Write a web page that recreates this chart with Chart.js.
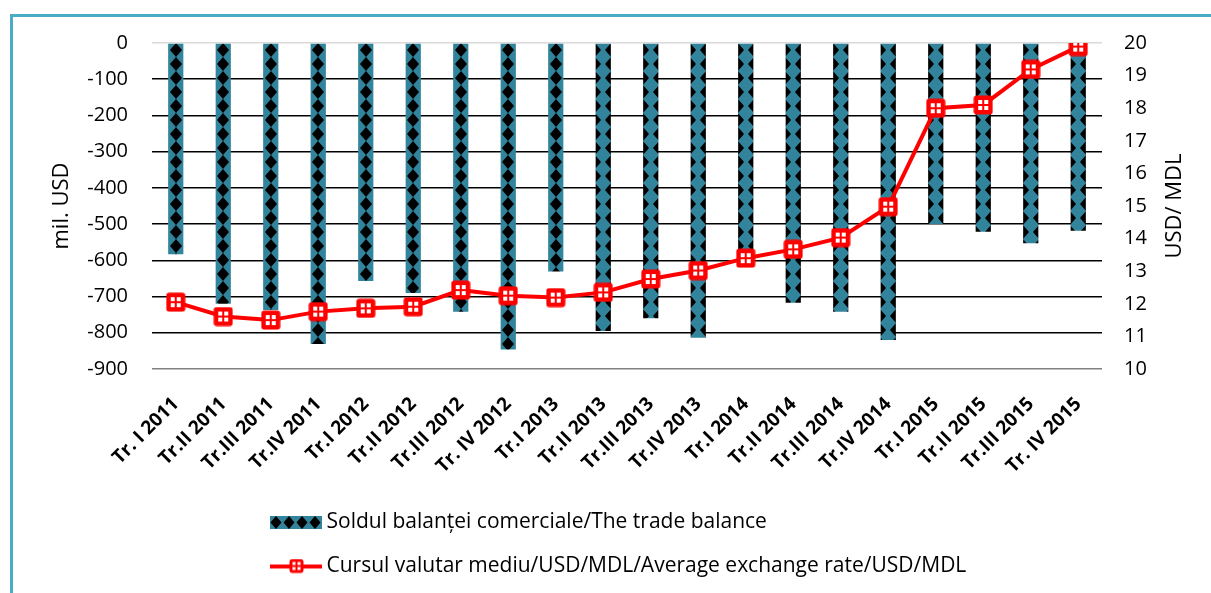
<!DOCTYPE html>
<html>
<head>
<meta charset="utf-8">
<script src="https://cdn.jsdelivr.net/npm/chart.js@4.4.1/dist/chart.umd.min.js"></script>
<style>
  html, body { margin: 0; padding: 0; background: #fff; overflow: hidden; }
  .frame { position: absolute; left: 10px; top: 14px; width: 1300px; height: 700px; border: 3px solid #4bacc6; }
  .wrap { position: absolute; left: 0; top: 0; width: 1211px; height: 593px; }
</style>
</head>
<body>
<div class="frame"></div>
<div class="wrap"><canvas id="chart"></canvas></div>
<script>
// quarters
const categories = ['Tr. I 2011', 'Tr.II 2011', 'Tr.III 2011', 'Tr.IV 2011',
  'Tr.I 2012', 'Tr.II 2012', 'Tr.III 2012', 'Tr. IV 2012',
  'Tr.I 2013', 'Tr.II 2013', 'Tr.III 2013', 'Tr.IV 2013',
  'Tr.I 2014', 'Tr.II 2014', 'Tr.III 2014', 'Tr.IV 2014',
  'Tr.I 2015', 'Tr.II 2015', 'Tr.III 2015', 'Tr. IV 2015'];

// trade balance, mil. USD
const tradeBalance = [-583, -720, -737, -831, -657, -690, -742, -846, -631, -795,
  -760, -814, -595, -717, -742, -820, -500, -521, -553, -518];

// average exchange rate USD/MDL
const exchangeRate = [12.05, 11.61, 11.50, 11.76, 11.86, 11.91, 12.42, 12.25, 12.19, 12.35,
  12.76, 13.02, 13.40, 13.67, 14.03, 14.98, 18.00, 18.10, 19.19, 19.89];

const leftTicks = { min: -900, max: 0, step: 100 };
const rightTicks = { min: 10, max: 20, step: 1 };

const barLabel = 'Soldul balanței comerciale/The trade balance';
const lineLabel = 'Cursul valutar mediu/USD/MDL/Average exchange rate/USD/MDL';
const leftTitle = 'mil. USD';
const rightTitleText = 'USD/ MDL';

const TEAL = '#31849b';
const RED = '#ff0000';
const FONT = '"Open Sans"';

// diamond pattern tile
function makeTile() {
  const c = document.createElement('canvas');
  c.width = 16; c.height = 14;
  const g = c.getContext('2d');
  g.fillStyle = TEAL;
  g.fillRect(0, 0, 16, 14);
  g.fillStyle = '#000';
  g.beginPath();
  g.moveTo(8, 0); g.lineTo(14, 7); g.lineTo(8, 14); g.lineTo(2, 7);
  g.closePath();
  g.fill();
  return c;
}
const tile = makeTile();

function barPattern(context) {
  const chart = context.chart;
  const pat = chart.ctx.createPattern(tile, 'repeat');
  const xs = chart.scales.x;
  if (xs && context.dataIndex !== undefined) {
    const cx = xs.getPixelForValue(context.dataIndex);
    const shift = context.dataIndex < 9 ? 0 : 8;
    pat.setTransform(new DOMMatrix().translateSelf(Math.round(cx) - 8 + shift, chart.chartArea ? chart.chartArea.top : 43));
  }
  return pat;
}

// marker: red rounded square with white panes
function makeMarker(size, pane) {
  const c = document.createElement('canvas');
  c.width = size; c.height = size;
  const g = c.getContext('2d');
  g.fillStyle = RED;
  g.beginPath();
  g.roundRect(0.5, 0.5, size - 1, size - 1, 3);
  g.fill();
  g.fillStyle = '#fff';
  const mid = size / 2;
  g.fillRect(mid - 1 - pane, mid - 1 - pane, pane, pane);
  g.fillRect(mid + 1, mid - 1 - pane, pane, pane);
  g.fillRect(mid - 1 - pane, mid + 1, pane, pane);
  g.fillRect(mid + 1, mid + 1, pane, pane);
  return c;
}
const marker = makeMarker(20, 4);

function makeBarSwatch() {
  const c = document.createElement('canvas');
  c.width = 52; c.height = 13;
  const g = c.getContext('2d');
  g.fillStyle = TEAL;
  g.fillRect(0, 0, 52, 13);
  g.fillStyle = '#000';
  for (let x = 6; x < 60; x += 13) {
    g.beginPath();
    g.moveTo(x, 0); g.lineTo(x + 5.5, 6.5); g.lineTo(x, 13); g.lineTo(x - 5.5, 6.5);
    g.closePath();
    g.fill();
  }
  return c;
}

function makeLineSwatch() {
  const c = document.createElement('canvas');
  c.width = 52; c.height = 16;
  const g = c.getContext('2d');
  g.fillStyle = RED;
  g.fillRect(0, 6, 52, 4);
  const m = makeMarker(15, 3);
  g.drawImage(m, 19, 0);
  return c;
}

const LEGEND_X = 253;
const legendShift = {
  id: 'legendShift',
  afterLayout(chart) {
    const lg = chart.legend;
    const dx = LEGEND_X - lg.left;
    lg.left += dx;
    lg.right += dx;
  }
};

// right axis title reads bottom-to-top like the left one
const rightTitle = {
  id: 'rightTitle',
  afterDraw(chart) {
    const s = chart.scales.y1;
    const ctx = chart.ctx;
    ctx.save();
    ctx.translate(s.right - 36, (s.top + s.bottom) / 2);
    ctx.rotate(-Math.PI / 2);
    ctx.font = '22px ' + FONT;
    ctx.fillStyle = '#000';
    ctx.textAlign = 'center';
    ctx.textBaseline = 'middle';
    ctx.fillText(rightTitleText, 0, 0);
    ctx.restore();
  }
};

Chart.defaults.font.family = FONT;
Chart.defaults.color = '#000';

new Chart(document.getElementById('chart'), {
  data: {
    labels: categories,
    datasets: [
      {
        type: 'bar',
        label: barLabel,
        data: tradeBalance,
        backgroundColor: barPattern,
        borderWidth: 0,
        barPercentage: 0.32,
        categoryPercentage: 1,
        yAxisID: 'y',
        order: 1
      },
      {
        type: 'line',
        label: lineLabel,
        data: exchangeRate,
        borderColor: RED,
        borderWidth: 4,
        pointStyle: marker,
        pointRadius: 10,
        tension: 0,
        yAxisID: 'y1',
        order: 0
      }
    ]
  },
  options: {
    responsive: true,
    maintainAspectRatio: false,
    animation: false,
    layout: { padding: { top: 43, bottom: 6, left: 0, right: 0 } },
    plugins: {
      tooltip: { enabled: false },
      legend: {
        position: 'bottom',
        align: 'start',
        fullSize: false,
        labels: {
          font: { size: 21 },
          color: '#000',
          usePointStyle: true,
          pointStyleWidth: 40,
          padding: 23,
          generateLabels: () => [
            { text: barLabel, pointStyle: makeBarSwatch(), datasetIndex: 0, lineWidth: 0, hidden: false },
            { text: lineLabel, pointStyle: makeLineSwatch(), datasetIndex: 1, lineWidth: 0, hidden: false }
          ]
        }
      }
    },
    scales: {
      x: {
        offset: true,
        grid: { display: false },
        border: { display: false },
        ticks: {
          autoSkip: false,
          minRotation: 45,
          maxRotation: 45,
          padding: 16,
          font: { size: 19, weight: 'bold' }
        },
        afterFit: s => { s.height = 120; }
      },
      y: {
        position: 'left',
        min: leftTicks.min,
        max: leftTicks.max,
        border: { display: false },
        grid: {
          drawTicks: false,
          lineWidth: 1.5,
          color: c => c.tick.value === 0 ? '#d9d9d9' : (c.tick.value === -900 ? '#808080' : '#000')
        },
        ticks: { stepSize: leftTicks.step, padding: 24, font: { size: 20 } },
        title: { display: true, text: leftTitle, font: { size: 22 }, padding: { top: 49 } },
        afterFit: s => { s.width = 152; }
      },
      y1: {
        position: 'right',
        min: rightTicks.min,
        max: rightTicks.max,
        border: { display: false },
        grid: { drawOnChartArea: false, drawTicks: false },
        ticks: { stepSize: rightTicks.step, padding: 22, font: { size: 20 } },
        title: { display: false },
        afterFit: s => { s.width = 109; }
      }
    }
  },
  plugins: [legendShift, rightTitle]
});
</script>
</body>
</html>
